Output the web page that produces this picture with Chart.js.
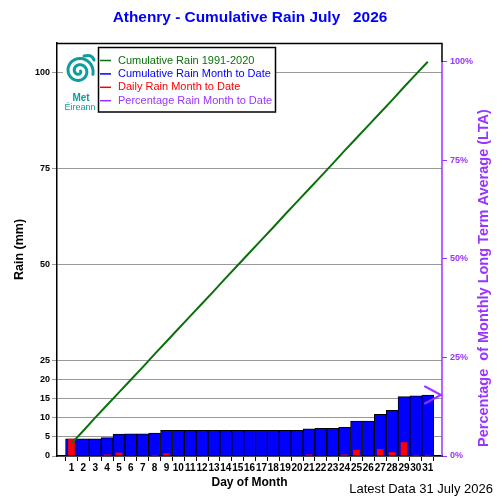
<!DOCTYPE html>
<html>
<head>
<meta charset="utf-8">
<script src="https://cdn.jsdelivr.net/npm/chart.js@4/dist/chart.umd.min.js"></script>
<style>
html,body{margin:0;padding:0;background:#fff;}
#wrap{width:500px;height:500px;position:relative;}
</style>
</head>
<body>
<div id="wrap"><canvas id="c" width="500" height="500"></canvas></div>
<script>
// ---- Data ----
const days = [1,2,3,4,5,6,7,8,9,10,11,12,13,14,15,16,17,18,19,20,21,22,23,24,25,26,27,28,29,30,31];
const ltaCumulative = [3.3,6.6,10.0,13.3,16.6,19.9,23.2,26.6,29.9,33.2,36.5,39.8,43.1,46.5,49.8,53.1,56.4,59.7,63.1,66.4,69.7,73.0,76.3,79.7,83.0,86.3,89.6,92.9,96.3,99.6,102.9];
const monthCumulative = [4.5,4.5,4.5,4.8,5.7,5.8,5.8,6.0,6.7,6.7,6.7,6.7,6.7,6.7,6.7,6.7,6.7,6.7,6.7,6.7,7.1,7.2,7.2,7.5,9.1,9.1,10.9,11.9,15.5,15.7,15.9];
const dailyRain = [4.5,0,0,0.4,0.9,0.2,0,0.3,0.7,0,0,0,0,0,0,0,0,0,0,0,0.4,0.2,0,0.4,1.6,0,1.8,1.0,3.6,0.3,0.3];
const percentOfLTA = [15.5];
const rainTicks = [0,5,10,15,20,25,50,75,100];
const percentTicks = [0,25,50,75,100];
const seriesLabels = ['Cumulative Rain 1991-2020','Cumulative Rain Month to Date','Daily Rain Month to Date','Percentage Rain Month to Date'];

const GREEN='#0b700b', BLUE='#0000ff', RED='#ff0000', PURPLE='#9933ff';
const FONT='"Liberation Sans", Arial, Helvetica, sans-serif';
const X_MIN=-0.22, X_MAX=32.2;

// arrow marker for percentage
const arrow=document.createElement('canvas');
arrow.width=40; arrow.height=22;
(function(){const g=arrow.getContext('2d');g.strokeStyle=PURPLE;g.lineWidth=2;g.lineCap='round';
g.beginPath();g.moveTo(3,2.5);g.lineTo(19,11);g.lineTo(3,19.5);g.stroke();})();

const extras={
  id:'extras',
  afterDraw(chart){
    const ctx=chart.ctx, a=chart.chartArea, y2=chart.scales.y2;
    ctx.save();
    // frame
    ctx.strokeStyle='#000'; ctx.lineWidth=1.5;
    ctx.beginPath(); ctx.moveTo(a.left,a.top+0.5); ctx.lineTo(a.right,a.top+0.5);
    ctx.lineTo(a.right,y2.getPixelForValue(100)); ctx.stroke();
    ctx.strokeStyle=PURPLE; ctx.lineWidth=1.5;
    ctx.beginPath(); ctx.moveTo(a.right,y2.getPixelForValue(100)); ctx.lineTo(a.right,a.bottom); ctx.stroke();
    // right axis title
    ctx.fillStyle=PURPLE; ctx.font='bold 14.5px '+FONT; ctx.textAlign='center'; ctx.textBaseline='middle';
    ctx.translate(484,278); ctx.rotate(-Math.PI/2);
    ctx.fillText('Percentage  of Monthly Long Term Average (LTA)',0,0);
    ctx.restore();
    ctx.save();
    // latest data
    ctx.fillStyle='#000'; ctx.font='13px '+FONT; ctx.textAlign='right'; ctx.textBaseline='middle';
    ctx.fillText('Latest Data 31 July 2026',493,489);
    // logo
    ctx.fillStyle='#fff'; ctx.fillRect(63,46,35,68);
    const teal='#0e9c9c';
    ctx.strokeStyle=teal; ctx.lineWidth=3; ctx.lineCap='round';
    ctx.beginPath();
    const cx=79, cy=71;
    for(let t=0;t<=4.1*Math.PI;t+=0.1){
      const r=1.5+t*1.0;
      const px=cx+r*Math.cos(t), py=cy+r*Math.sin(t);
      if(t===0)ctx.moveTo(px,py);else ctx.lineTo(px,py);
    }
    ctx.stroke();
    ctx.beginPath(); ctx.moveTo(84,56); ctx.quadraticCurveTo(92,54,94,60); ctx.stroke();
    ctx.fillStyle=teal; ctx.textAlign='center'; ctx.textBaseline='middle';
    ctx.font='bold 10px '+FONT; ctx.fillText('Met',81,98);
    ctx.font='9px '+FONT; ctx.fillText('Éireann',80,107.5);
    // legend
    ctx.fillStyle='#fff'; ctx.fillRect(98,47,178,65);
    ctx.strokeStyle='#000'; ctx.lineWidth=1.5; ctx.strokeRect(98.5,47.5,177,64.5);
    const cols=[GREEN,BLUE,RED,PURPLE];
    ctx.font='11px '+FONT; ctx.textAlign='left';
    seriesLabels.forEach((lab,i)=>{
      const yy=60.5+i*13.4;
      ctx.strokeStyle=cols[i]; ctx.lineWidth=1.5; ctx.lineCap='butt';
      ctx.beginPath(); ctx.moveTo(100,yy); ctx.lineTo(111,yy); ctx.stroke();
      ctx.fillStyle=cols[i]; ctx.fillText(lab,118,yy);
    });
    ctx.restore();
  }
};

new Chart(document.getElementById('c'),{
  type:'bar',
  data:{
    datasets:[
      {type:'line',label:seriesLabels[0],data:days.map((d,i)=>({x:d,y:ltaCumulative[i]})),borderColor:GREEN,borderWidth:2,pointRadius:0,yAxisID:'y',order:0,tension:0},
      {type:'line',label:seriesLabels[3],data:percentOfLTA.map(v=>({x:X_MAX,y:v})),yAxisID:'y2',showLine:false,pointStyle:arrow,pointRadius:10,order:1,clip:false},
      {type:'bar',label:seriesLabels[2],data:days.map((d,i)=>({x:d,y:dailyRain[i]})),backgroundColor:RED,borderWidth:0,barPercentage:0.56,categoryPercentage:1,grouped:false,yAxisID:'y',order:2},
      {type:'bar',label:seriesLabels[1],data:days.map((d,i)=>({x:d,y:monthCumulative[i]})),backgroundColor:BLUE,borderColor:'#000',borderWidth:1,barPercentage:1,categoryPercentage:1,grouped:false,yAxisID:'y',order:3}
    ]
  },
  options:{
    responsive:false,animation:false,devicePixelRatio:1,
    layout:{padding:{top:0,left:0,right:0,bottom:0}},
    plugins:{
      legend:{display:false},tooltip:{enabled:false},
      title:{display:true,text:'Athenry - Cumulative Rain July   2026',color:BLUE,font:{family:FONT,size:15.4,weight:'bold'},padding:{top:8.8,bottom:15.7}}
    },
    scales:{
      x:{type:'linear',min:X_MIN,max:X_MAX,offset:false,
        afterBuildTicks:s=>{s.ticks=days.map(v=>({value:v}));},
        afterFit:s=>{s.height=44;},
        grid:{drawOnChartArea:false,tickLength:5,tickColor:'#000'},
        border:{color:'#000',width:1.5},
        ticks:{autoSkip:false,maxRotation:0,color:'#000',padding:1,font:{family:FONT,size:10,weight:'bold'},callback:v=>String(v)},
        title:{display:true,text:'Day of Month',color:'#000',font:{family:FONT,size:12,weight:'bold'},padding:{top:0,bottom:10}}
      },
      y:{type:'linear',position:'left',min:0,max:107.8,
        afterBuildTicks:s=>{s.ticks=rainTicks.map(v=>({value:v}));},
        afterFit:s=>{s.width=57;},
        grid:{color:'#999',lineWidth:1,tickLength:5},
        border:{color:'#000',width:1.5},
        ticks:{color:'#000',padding:2,font:{family:FONT,size:9,weight:'bold'},callback:v=>String(v)},
        title:{display:true,text:'Rain (mm)',color:'#000',font:{family:FONT,size:12.5,weight:'bold'},padding:{top:12,bottom:0}}
      },
      y2:{type:'linear',position:'right',min:0,max:104.8,
        afterBuildTicks:s=>{s.ticks=percentTicks.map(v=>({value:v}));},
        afterFit:s=>{s.width=58;},
        grid:{drawOnChartArea:false,tickLength:5,tickColor:PURPLE},
        border:{display:false},
        ticks:{color:PURPLE,padding:3,font:{family:FONT,size:9,weight:'bold'},callback:v=>v+'%'}
      }
    }
  },
  plugins:[extras]
});
</script>
</body>
</html>
